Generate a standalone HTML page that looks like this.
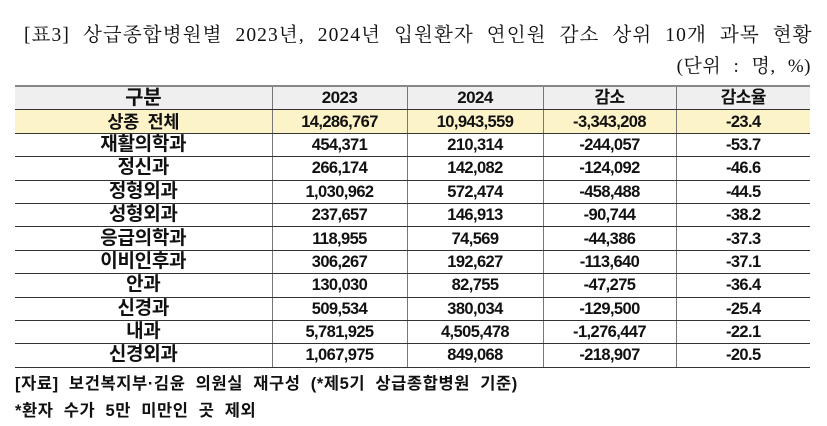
<!DOCTYPE html>
<html><head><meta charset="utf-8"><style>
body{margin:0;width:827px;height:426px;background:#fff;position:relative;overflow:hidden;font-family:"Liberation Sans","Noto Sans CJK KR",sans-serif;}
.title{position:absolute;left:24px;top:19px;font-family:"Liberation Serif","Noto Serif CJK SC",serif;font-size:19.5px;white-space:nowrap;color:#111;letter-spacing:1.1px;word-spacing:7px}
.unit{position:absolute;right:16px;top:51px;font-family:"Liberation Serif","Noto Serif CJK SC",serif;font-size:19px;white-space:nowrap;color:#111;word-spacing:7px;letter-spacing:0.5px}
table{position:absolute;left:15px;top:85px;width:795px;border-collapse:collapse;table-layout:fixed}
td{height:22.4px;padding:0;text-align:center;font-weight:bold;font-size:16.5px;line-height:20px;border-bottom:1.3px solid #333;border-left:1px solid #777;color:#111;letter-spacing:-0.6px;white-space:nowrap}
td:first-child{border-left:none;font-size:19px;letter-spacing:-0.3px}
tr.h td{background:#efefef;border-top:2px solid #888;font-size:17px}
tr.h td:first-child{font-size:20px}
tr.y td{background:#fdf3c9}
tr.y td:first-child{font-size:17.5px;word-spacing:4px}
.fn{position:absolute;left:15px;font-size:16.5px;font-weight:bold;color:#111;white-space:nowrap;letter-spacing:0.6px;word-spacing:5px}
</style></head><body>
<div class="title">[표3] 상급종합병원별 2023년, 2024년 입원환자 연인원 감소 상위 10개 과목 현황</div>
<div class="unit">(단위 : 명, %)</div>
<table>
<colgroup><col style="width:257px"><col style="width:135px"><col style="width:136px"><col style="width:133px"><col style="width:134px"></colgroup>
<tr class="h"><td>구분</td><td>2023</td><td>2024</td><td>감소</td><td>감소율</td></tr>
<tr class="y"><td>상종 전체</td><td>14,286,767</td><td>10,943,559</td><td>-3,343,208</td><td>-23.4</td></tr>
<tr><td>재활의학과</td><td>454,371</td><td>210,314</td><td>-244,057</td><td>-53.7</td></tr>
<tr><td>정신과</td><td>266,174</td><td>142,082</td><td>-124,092</td><td>-46.6</td></tr>
<tr><td>정형외과</td><td>1,030,962</td><td>572,474</td><td>-458,488</td><td>-44.5</td></tr>
<tr><td>성형외과</td><td>237,657</td><td>146,913</td><td>-90,744</td><td>-38.2</td></tr>
<tr><td>응급의학과</td><td>118,955</td><td>74,569</td><td>-44,386</td><td>-37.3</td></tr>
<tr><td>이비인후과</td><td>306,267</td><td>192,627</td><td>-113,640</td><td>-37.1</td></tr>
<tr><td>안과</td><td>130,030</td><td>82,755</td><td>-47,275</td><td>-36.4</td></tr>
<tr><td>신경과</td><td>509,534</td><td>380,034</td><td>-129,500</td><td>-25.4</td></tr>
<tr><td>내과</td><td>5,781,925</td><td>4,505,478</td><td>-1,276,447</td><td>-22.1</td></tr>
<tr><td>신경외과</td><td>1,067,975</td><td>849,068</td><td>-218,907</td><td>-20.5</td></tr>
</table>
<div class="fn" style="top:370px">[자료] 보건복지부·김윤 의원실 재구성 (*제5기 상급종합병원 기준)</div>
<div class="fn" style="top:397px">*환자 수가 5만 미만인 곳 제외</div>
</body></html>
